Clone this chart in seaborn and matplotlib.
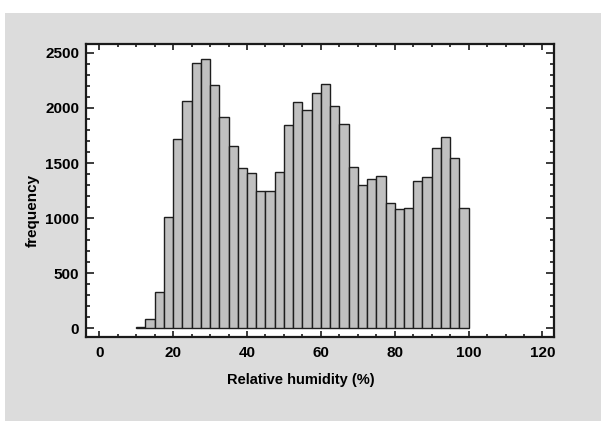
import numpy as np
import pandas as pd
import matplotlib
matplotlib.use("Agg")
import matplotlib.pyplot as plt
from matplotlib.patches import Rectangle
from matplotlib.ticker import MultipleLocator
import seaborn as sns

# ---- data ----
bin_start, bin_stop, bin_width = 10.0, 100.0, 2.5
counts = [10, 82, 327, 1013, 1715, 2063, 2410, 2441, 2208, 1915,
          1654, 1457, 1412, 1249, 1249, 1420, 1845, 2051, 1981, 2138,
          2220, 2014, 1854, 1467, 1298, 1352, 1385, 1140, 1083, 1095,
          1340, 1376, 1633, 1733, 1545, 1092]
x_ticks = [0, 20, 40, 60, 80, 100, 120]
y_ticks = [0, 500, 1000, 1500, 2000, 2500]
x_label = "Relative humidity (%)"
y_label = "frequency"

centers = bin_start + bin_width * (np.arange(len(counts)) + 0.5)
df = pd.DataFrame({"rh": centers, "count": counts})

sns.set_theme(style="ticks")
plt.rcParams["font.family"] = ["Liberation Sans", "DejaVu Sans"]

W, H = 601, 421
fig = plt.figure(figsize=(W / 100, H / 100), dpi=100, facecolor="white")
# grey panel behind the plot
fig.patches.append(Rectangle((5 / W, 0), 1 - 5 / W, (H - 13) / H,
                             transform=fig.transFigure, facecolor="#dcdcdc",
                             edgecolor="none", zorder=-10))

ax_l, ax_r, ax_t, ax_b = 86, 554.3, 44, 336.7
ax = fig.add_axes([ax_l / W, (H - ax_b) / H, (ax_r - ax_l) / W, (ax_b - ax_t) / H])
ax.set_facecolor("white")

sns.histplot(data=df, x="rh", weights="count", binwidth=bin_width,
             binrange=(bin_start, bin_stop), ax=ax,
             color="#c0c0c0", alpha=1.0, edgecolor="#1e1e1e", linewidth=1.0)

ax.set_xlim(-3.6, 123.2)
ax.set_ylim(-76, 2580)
ax.set_xticks(x_ticks)
ax.set_yticks(y_ticks)
ax.xaxis.set_minor_locator(MultipleLocator(5))
ax.yaxis.set_minor_locator(MultipleLocator(100))

for s in ax.spines.values():
    s.set_visible(True)
    s.set_linewidth(1.6)
    s.set_color("#1a1a1a")

ax.tick_params(axis="both", which="both", direction="in", top=True, right=True,
               color="#1a1a1a", width=1.2)
ax.tick_params(axis="y", which="major", length=6, labelsize=11, pad=5)
ax.tick_params(axis="y", which="minor", length=3)
ax.tick_params(axis="x", which="major", length=4.3, labelsize=11, pad=7)
ax.tick_params(axis="x", which="minor", length=2.2)
for lab in ax.get_xticklabels() + ax.get_yticklabels():
    lab.set_fontweight("bold")
    lab.set_color("black")

ax.set_xlabel(x_label, fontsize=10.5, fontweight="bold", color="black", va="center")
ax.set_ylabel(y_label, fontsize=11, fontweight="bold", color="black", va="center")
ax.xaxis.set_label_coords((301.3 - ax_l) / (ax_r - ax_l), (ax_b - 380) / (ax_b - ax_t))
ax.yaxis.set_label_coords((32.5 - ax_l) / (ax_r - ax_l), (ax_b - 210) / (ax_b - ax_t))

fig.savefig("out.png", dpi=100, facecolor=fig.get_facecolor())
